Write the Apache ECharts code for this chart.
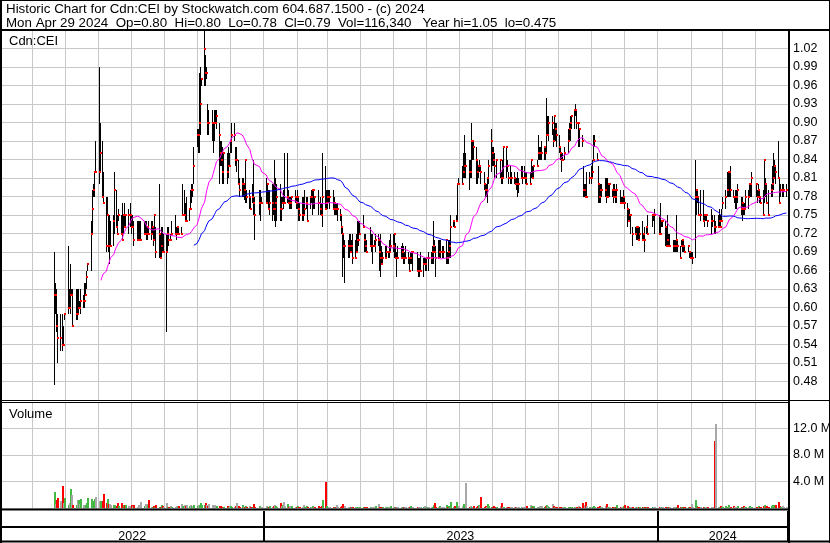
<!DOCTYPE html>
<html>
<head>
<meta charset="utf-8">
<title>Cdn:CEI</title>
<script src="https://cdn.jsdelivr.net/npm/echarts@6.0.0/dist/echarts.min.js"></script>
<style>
html,body{margin:0;padding:0;background:#fff;}
#chart{width:830px;height:543px;}
</style>
</head>
<body>
<div id="chart"></div>
<script>
// ---------------- data ----------------
const titleLine1 = 'Historic Chart for Cdn:CEI by Stockwatch.com 604.687.1500 - (c) 2024';
const titleLine2 = 'Mon Apr 29 2024  Op=0.80  Hi=0.80  Lo=0.78  Cl=0.79  Vol=116,340   Year hi=1.05  lo=0.475';
const symbolLabel = 'Cdn:CEI';
const volumeLabel = 'Volume';

// calendar span shown on the time axis, and the traded sessions
const axisStart = '2022-05-02';
const axisEnd = '2024-04-30';
const firstTradeDate = '2022-06-21';
const lastTradeDate = '2024-04-29';
const marketHolidays = ['2022-07-01','2022-08-01','2022-09-05','2022-10-10','2022-12-26','2022-12-27',
  '2023-01-02','2023-02-20','2023-04-07','2023-05-22','2023-07-03','2023-08-07','2023-09-04','2023-10-09','2023-12-25','2023-12-26',
  '2024-01-01','2024-02-19','2024-03-29'];

const highs = [
 .69,.64,.63,.59,.59,.59,.57,.59,.70,.63, .67,.63,.63,.63,.63,.63,.61,.63,.62,.64,
 .64,.66,.67,.74,.79,.80,.82,.87,.99,.90, .87,.82,.78,.78,.75,.75,.74,.75,.82,.79,
 .75,.76,.75,.77,.75,.77,.75,.76,.77,.75, .75,.74,.74,.74,.74,.74,.74,.74,.74,.73,
 .74,.74,.74,.73,.75,.73,.80,.72,.73,.73, .72,.72,.73,.73,.72,.74,.75,.73,.73,.73,
 .73,.80,.79,.77,.78,.76,.79,.80,.80,.86, .89,.89,
 .98,.99,.97,1.05,1.01,.99,.93,.92,.92,.90, .92,.92,.92,.90,.87,.87,.86,.85,.85,.86,
 .85,.87,.90,.90,.86,.86,.84,.81,.81,.81, .80,.84,.79,.79,.78,.80,.84,.78,.79,.79,
 .78,.81,.80,.79,.79,.80,.80,.84,.81,.80, .80,.78,.78,.79,.85,.85,.79,.78,.78,.78,
 .79,.78,.79,.78,.77,.78,.78,.79,.78,.78, .78,.79,.79,.79,.78,.79,.78,.77,.85,.83,
 .79,.79,.79,.79,.79,.78,.77,.77,.77,.76, .75,.73,.72,.71,.71,.72,.72,
 .71,.72,.71,.72,.74,.74,.74,.75,.72,.72, .71,.73,.72,.72,.71,.72,.72,.71,.72,.70,
 .69,.70,.70,.69,.71,.72,.72,.72,.705,.69, .70,.70,.705,.70,.69,.70,.69,.68,.69,.69,
 .69,.69,.68,.68,.69,.68,.68,.68,.68,.69, .69,.70,.74,.71,.70,.71,.71,.71,.70,.70,
 .71,.69,.71,.71,.75,.74,.74,.75,.80,.81, .83,.85,.88,.85,.84,.84,.90,.87,.87,.86,
 .84,.83,.84,.83,.82,.80,.80,.81,.84,.89, .86,.86,.85,.84,.84,
 .82,.84,.86,.86,.84,.82,.83,.82,.82,.81, .81,.82,.81,.83,.83,.83,.82,.82,.82,.84,
 .83,.83,.84,.88,.86,.86,.87,.86,.86,.94, .91,.91,.91,.89,.91,.90,.90,.88,.86,.85,
 .85,.86,.89,.90,.91,.91,.92,.93,.92,.90, .89,.88,.83,.80,.80,.82,.82,.83,.84,.88,
 .88,.85,.83,.80,.80,.80,.81,.81,.81,.80, .80,.79,.80,.80,.79,.80,.79,.78,.78,.79,
 .78,.77,.76,.76,.75,.73,.73,.73,.73,.73, .73,.74,.72,.73,
 .73,.75,.75,.75,.76,.75,.77,.74,.74,.74, .73,.75,.72,.72,.71,.71,.71,.75,.71,.70,
 .71,.71,.71,.70,.70,.69,.69,.69,.69,.84, .79,.79,.78,.79,.79,.75,.75,.75,.74,.76,
 .75,.75,.74,.75,.76,.75,.76,.78,.79,.82, .82,.82,.83,.79,.78,.79,.79,.80,.78,.78,
 .77,.77,.79,.79,.80,.80,.82,.80,.79,.80, .79,.78,.79,.84,.81,.80,.79,.80,.83,.85,
 .84,.83,.87,.81,.80,.80,.80,.80
];
const lows = [
 .475,.59,.56,.51,.53,.53,.54,.58,.59,.60, .59,.62,.57,.58,.58,.59,.60,.59,.60,.60,
 .62,.63,.66,.66,.72,.78,.78,.82,.80,.82, .78,.77,.69,.75,.69,.67,.70,.70,.72,.73,
 .72,.74,.72,.71,.72,.73,.73,.72,.73,.72, .73,.70,.71,.71,.71,.71,.72,.72,.71,.71,
 .72,.71,.72,.70,.71,.68,.68,.68,.68,.69, .69,.56,.69,.70,.71,.72,.72,.71,.72,.72,
 .72,.75,.75,.74,.74,.74,.76,.77,.78,.80, .86,.85,
 .85,.88,.96,.96,.96,.97,.88,.88,.87,.85, .87,.90,.89,.80,.83,.83,.80,.80,.80,.81,
 .83,.85,.85,.87,.83,.82,.80,.78,.78,.78, .775,.77,.77,.76,.76,.77,.75,.71,.75,.74,
 .77,.77,.77,.76,.75,.74,.75,.74,.73,.74, .74,.74,.77,.76,.77,.77,.77,.76,.76,.76,
 .77,.76,.76,.74,.74,.74,.74,.75,.76,.74, .76,.77,.75,.76,.76,.75,.75,.75,.73,.76,
 .76,.76,.77,.76,.76,.75,.75,.75,.74,.74, .72,.65,.68,.64,.68,.68,.69,
 .69,.67,.68,.69,.69,.70,.72,.73,.69,.69, .69,.70,.69,.67,.70,.69,.70,.66,.65,.67,
 .67,.68,.68,.68,.68,.69,.69,.68,.68,.65, .68,.68,.68,.67,.67,.68,.67,.66,.67,.67,
 .66,.66,.65,.65,.66,.65,.67,.66,.66,.66, .67,.67,.67,.69,.65,.68,.68,.68,.68,.68,
 .67,.67,.67,.68,.68,.73,.73,.74,.74,.80, .80,.81,.81,.81,.79,.81,.81,.84,.84,.80,
 .80,.81,.82,.80,.79,.78,.78,.77,.80,.82, .83,.83,.81,.81,.81,
 .80,.80,.81,.81,.82,.80,.80,.80,.80,.80, .79,.78,.785,.81,.80,.81,.80,.80,.80,.81,
 .81,.81,.83,.84,.84,.84,.84,.84,.84,.85, .88,.87,.88,.86,.87,.87,.86,.85,.84,.82,
 .84,.84,.85,.87,.87,.89,.89,.91,.89,.86, .86,.86,.78,.78,.78,.78,.80,.80,.81,.84,
 .86,.84,.77,.77,.77,.78,.78,.77,.78,.78, .78,.78,.77,.78,.77,.77,.77,.77,.77,.77,
 .76,.73,.74,.74,.72,.70,.72,.71,.71,.71, .71,.71,.71,.69,
 .72,.72,.73,.74,.72,.72,.72,.73,.73,.70, .70,.70,.70,.70,.69,.69,.69,.69,.69,.68,
 .70,.69,.69,.69,.69,.68,.68,.68,.67,.68, .75,.77,.75,.74,.74,.73,.74,.74,.73,.72,
 .73,.72,.72,.73,.73,.73,.74,.76,.76,.78, .78,.78,.78,.78,.77,.76,.76,.77,.75,.74,
 .75,.75,.76,.76,.78,.78,.78,.78,.77,.78, .77,.77,.75,.77,.78,.77,.75,.78,.78,.79,
 .81,.80,.81,.77,.78,.78,.78,.78
];
const closes = [
 .62,.62,.57,.55,.55,.54,.54,.59,.60,.60, .62,.62,.57,.59,.59,.60,.60,.61,.61,.61,
 .62,.65,.67,.72,.76,.79,.82,.82,.82,.85, .78,.77,.70,.75,.70,.70,.70,.74,.79,.73,
 .72,.75,.72,.71,.75,.73,.75,.75,.75,.73, .73,.71,.71,.71,.71,.71,.72,.72,.72,.73,
 .72,.72,.73,.71,.75,.69,.72,.68,.70,.69, .69,.69,.72,.71,.71,.72,.72,.72,.73,.72,
 .72,.75,.75,.74,.74,.76,.76,.79,.79,.83, .88,.88,
 .90,.93,.97,1.02,.98,.98,.90,.90,.90,.90, .90,.90,.91,.88,.85,.84,.82,.85,.82,.83,
 .83,.87,.88,.88,.84,.84,.80,.79,.80,.80, .79,.84,.78,.78,.76,.78,.77,.75,.77,.77,
 .77,.77,.80,.76,.77,.77,.76,.76,.77,.78, .76,.76,.77,.77,.77,.78,.77,.77,.77,.78,
 .78,.77,.78,.76,.75,.75,.75,.76,.77,.74, .78,.78,.79,.79,.78,.77,.76,.75,.78,.76,
 .77,.78,.78,.78,.76,.77,.76,.76,.76,.75, .73,.72,.70,.70,.70,.70,.69,
 .70,.68,.68,.69,.71,.71,.72,.73,.71,.70, .69,.70,.70,.70,.70,.71,.71,.69,.68,.67,
 .68,.68,.69,.69,.69,.70,.70,.72,.68,.68, .68,.68,.69,.68,.68,.68,.68,.66,.68,.69,
 .69,.66,.66,.66,.66,.67,.67,.67,.68,.68, .68,.69,.70,.69,.68,.68,.69,.69,.69,.69,
 .71,.68,.69,.70,.73,.74,.73,.74,.80,.80, .80,.82,.83,.83,.82,.82,.87,.87,.86,.84,
 .82,.83,.83,.82,.80,.79,.79,.81,.83,.87, .85,.84,.83,.84,.84,
 .81,.81,.86,.86,.83,.81,.81,.81,.81,.80, .80,.80,.80,.81,.81,.81,.81,.80,.80,.84,
 .81,.83,.83,.85,.85,.85,.85,.86,.85,.88, .88,.90,.90,.87,.91,.89,.88,.86,.85,.84,
 .84,.85,.87,.89,.90,.91,.92,.92,.90,.90, .89,.87,.79,.79,.78,.78,.81,.81,.82,.84,
 .87,.84,.80,.78,.79,.79,.79,.78,.78,.80, .80,.79,.78,.79,.78,.79,.77,.77,.77,.78,
 .77,.76,.74,.75,.75,.72,.72,.73,.73,.71, .72,.71,.72,.71,
 .73,.72,.75,.75,.75,.72,.72,.74,.74,.73, .70,.71,.70,.70,.70,.70,.70,.71,.70,.68,
 .70,.71,.70,.69,.70,.69,.68,.68,.68,.78, .79,.78,.75,.75,.74,.75,.75,.75,.74,.74,
 .74,.73,.73,.73,.74,.73,.74,.77,.78,.79, .82,.82,.79,.78,.78,.78,.78,.79,.76,.77,
 .76,.76,.78,.78,.80,.80,.81,.80,.78,.79, .78,.77,.75,.84,.80,.77,.75,.79,.80,.81,
 .83,.82,.81,.77,.79,.79,.79,.79
];
// daily volume, millions of shares
const volumesM = [
 2.4,.6,1.15,1.5,1.0,3.3,.8,1.5,.5,.7, 2.8,2.0,.4,.5,1.25,1.25,.6,1.4,.5,.5,
 .5,.7,1.5,1.3,1.0,1.0,1.4,1.7,1.0,1.1, 1.0,2.1,.8,1.4,.6,.6,.45,.45,.45,.35,
 .75,.3,.75,.4,.4,.45,.45,.35,.3,.45, .3,.45,.2,.45,.3,.9,.35,.6,.6,.5,
 1.15,.2,.2,.3,.15,.4,.2,.15,.5,.3, .2,.75,.2,.15,.3,.2,.1,.25,.15,.3,
 .6,.3,.45,.25,.45,.3,.45,.3,.35,.45, .3,.5,.45,.75,.5,.45,.75,.4,.3,.6,
 .4,.3,.45,.2,.3,.25,.3,.2,.15,.2, .3,.2,.25,.3,.15,.2,.3,.75,.3,.2,
 .45,.2,.15,.3,.2,.25,.1,.2,.6,.2, .25,.15,.2,.3,.15,.2,.3,.2,.25,.45,
 .3,.2,.75,.3,.45,.9,.3,.6,.2,.3, .2,.25,.15,.2,.3,.2,.15,.2,.45,.2,
 .3,.15,.2,.2,.3,.15,.2,.3,.2,.3, 1.25,3.9,.3,.2,.15,.2,.1,.2,.15,.45,
 .2,.15,.3,.6,.2,.3,.15,.2,.2,.15, .2,.1,.15,.2,.15,.1,.2,.15,.1,.2,
 .15,.2,.1,.15,.3,.6,.2,.15,.1,.2, .15,.2,.1,.15,.3,.2,.1,.15,.2,.1,
 .15,.2,.1,.15,.2,.1,.15,.3,.2,.1, .15,.2,.15,.1,.2,.3,.15,.2,.1,.15,
 .2,.45,.75,.2,.15,.3,.2,.15,.2,.45, .2,.3,.3,.9,.2,.3,.9,.2,.3,.3,
 .6,.3,3.7,.2,.3,.2,.15,.3,.2,.3, .45,.3,1.6,.2,.3,.2,.6,.3,.15,.2,
 .3,.2,.15,.3,.75,.2,.15,.2,.1,.2, .15,.2,.15,.1,.2,.15,.1,.2,.15,.2,
 .15,.3,.45,.3,.2,.3,.2,.15,.3,.2, .3,.2,.3,.45,.3,.2,.6,.3,.2,.15,
 .2,.15,.1,.15,.2,.1,.15,.2,.1,.15, .2,.15,.2,.3,.2,.75,.3,.45,.85,.3,
 .2,.15,.2,.3,.2,.15,.2,.3,.15,.2, .3,.6,.2,.15,.2,.1,.15,.2,.15,.45,
 .2,.15,.2,.3,.45,.3,.2,.15,.2,.1, .15,.2,.1,.15,.2,.1,.15,.2,.1,.15,
 .2,.1,.15,.2,.15,.1,.2,.15,.1,.2, .15,.1,.2,.15,.1,.2,.45,.15,.1,.2,
 .15,.2,.1,.15,.2,.6,.2,1.15,.3,.2, .15,.2,.1,.15,.2,.15,.1,.2,.2,10.1,
 12.7,.2,.15,.3,.2,.15,.3,.2,.45,.2, .15,.3,.2,.1,.2,.3,.15,.2,.3,.2,
 .15,.2,.3,.15,.2,.1,.2,.3,.15,.2, .3,.45,.2,.3,.2,.3,.45,.3,.4,.4,
 .9,.3,.2,.35,.2,.116
];

const priceMin = 0.45, priceMax = 1.05, priceStep = 0.03;
const volMin = 0, volMax = 16, volStep = 4;
const maShortDays = 30, maLongDays = 90;

// ---------------- build ----------------
const FONT = '"Liberation Sans", Arial, Helvetica, sans-serif';
const DAY = 86400000;
const iso = (t) => new Date(t).toISOString().slice(0, 10);

const calendar = [];
for (let t = Date.parse(axisStart + 'T00:00:00Z'); t <= Date.parse(axisEnd + 'T00:00:00Z'); t += DAY) calendar.push(iso(t));
const calIndex = new Map(calendar.map((d, i) => [d, i]));

const sessions = [];
(function () {
  const hol = new Set(marketHolidays);
  for (let t = Date.parse(firstTradeDate + 'T00:00:00Z'); t <= Date.parse(lastTradeDate + 'T00:00:00Z'); t += DAY) {
    const wd = new Date(t).getUTCDay();
    const s = iso(t);
    if (wd !== 0 && wd !== 6 && !hol.has(s)) sessions.push(s);
  }
})();
const n = Math.min(sessions.length, closes.length);
const xOf = (i) => calIndex.get(sessions[i]);

const rangeData = [], closeData = [], volData = [];
for (let i = 0; i < n; i++) {
  const x = xOf(i);
  rangeData.push([x, highs[i], lows[i]]);
  closeData.push([x, closes[i]]);
  const dir = i === 0 ? 1 : (closes[i] > closes[i - 1] ? 1 : (closes[i] < closes[i - 1] ? -1 : 0));
  volData.push([x, volumesM[i], dir]);
}
function sma(win) {
  const out = [];
  for (let i = win - 1; i < n; i++) {
    let sum = 0;
    for (let k = i - win + 1; k <= i; k++) sum += closes[k];
    out.push([xOf(i), +(sum / win).toFixed(4)]);
  }
  return out;
}
const maShort = sma(maShortDays);
const maLong = sma(maLongDays);

const isMonthStart = (idx) => idx > 0 && calendar[idx].slice(8, 10) === '01';
const isYearStart = (idx) => idx > 0 && calendar[idx].slice(5, 10) === '01-01';
const yearMid = new Set();
(function () {
  const ranges = {};
  calendar.forEach((s, i) => {
    const y = s.slice(0, 4);
    if (!ranges[y]) ranges[y] = [i, i]; else ranges[y][1] = i;
  });
  Object.keys(ranges).forEach(y => yearMid.add(Math.round((ranges[y][0] + ranges[y][1]) / 2)));
})();

function baseX(gridIndex) {
  return {
    type: 'category', gridIndex, data: calendar, boundaryGap: true,
    axisLine: { show: false }, axisTick: { show: false }, axisLabel: { show: false },
    splitLine: { show: true, interval: (i) => isMonthStart(i), lineStyle: { color: '#c8c8c8', width: 1 } }
  };
}

const GRID_W = 788;
const option = {
  animation: false,
  backgroundColor: '#ffffff',
  grid: [
    { left: 0, top: 30, width: GRID_W, height: 370, outerBoundsMode: 'none' },
    { left: 0, top: 402, width: GRID_W, height: 106, outerBoundsMode: 'none' },
    { left: 0, top: 511, width: GRID_W, height: 30, outerBoundsMode: 'none' }
  ],
  xAxis: [
    baseX(0),
    baseX(1),
    {
      type: 'category', gridIndex: 2, data: calendar, boundaryGap: true, position: 'bottom',
      axisLine: { show: false }, axisTick: { show: false },
      axisLabel: {
        show: true, inside: true, margin: -2, interval: (i) => yearMid.has(i),
        formatter: (v) => v.slice(0, 4), color: '#000', fontSize: 12.5, fontFamily: FONT
      },
      splitLine: { show: true, interval: (i) => isYearStart(i), lineStyle: { color: '#000', width: 2 } }
    }
  ],
  yAxis: [
    {
      type: 'value', gridIndex: 0, position: 'right', min: priceMin, max: priceMax, interval: priceStep,
      axisLine: { show: false }, axisTick: { show: false },
      axisLabel: { showMinLabel: false, showMaxLabel: false, margin: 5, color: '#000', fontSize: 12.5, fontFamily: FONT,
        formatter: (v) => v.toFixed(2) },
      splitLine: { show: true, lineStyle: { color: '#c8c8c8', width: 1 } }
    },
    {
      type: 'value', gridIndex: 1, position: 'right', min: volMin, max: volMax, interval: volStep,
      axisLine: { show: false }, axisTick: { show: false },
      axisLabel: { showMinLabel: false, showMaxLabel: false, margin: 5, color: '#000', fontSize: 12.5, fontFamily: FONT,
        hideOverlap: false, formatter: (v) => v.toFixed(1) + ' M' },
      splitLine: { show: true, lineStyle: { color: '#c8c8c8', width: 1 } }
    },
    { type: 'value', gridIndex: 2, show: false }
  ],
  series: [
    {
      type: 'custom', name: 'range', xAxisIndex: 0, yAxisIndex: 0, data: rangeData, clip: true, z: 2,
      encode: { x: 0, y: [1, 2] },
      renderItem: function (params, api) {
        const i = api.value(0);
        const ph = api.coord([i, api.value(1)]);
        const pl = api.coord([i, api.value(2)]);
        const xf = Math.floor(ph[0]);
        let y1 = Math.round(ph[1]), y2 = Math.round(pl[1]);
        if (y2 - y1 < 1) y2 = y1 + 1;
        return { type: 'rect', shape: { x: xf, y: y1, width: 1, height: y2 - y1 }, style: { fill: '#000' } };
      }
    },
    {
      type: 'custom', name: 'close', xAxisIndex: 0, yAxisIndex: 0, data: closeData, clip: true, z: 3,
      encode: { x: 0, y: 1 },
      renderItem: function (params, api) {
        const i = api.value(0);
        const pc = api.coord([i, api.value(1)]);
        const xf = Math.floor(pc[0]);
        return { type: 'rect', shape: { x: xf, y: Math.round(pc[1]) - 1, width: 2, height: 2 }, style: { fill: '#ff0000' } };
      }
    },
    {
      type: 'line', name: 'ma' + maShortDays, xAxisIndex: 0, yAxisIndex: 0, data: maShort, z: 4,
      symbol: 'none', lineStyle: { color: '#ff00ff', width: 1 }, silent: true
    },
    {
      type: 'line', name: 'ma' + maLongDays, xAxisIndex: 0, yAxisIndex: 0, data: maLong, z: 4,
      symbol: 'none', lineStyle: { color: '#0000ff', width: 1 }, silent: true
    },
    {
      type: 'custom', name: 'volume', xAxisIndex: 1, yAxisIndex: 1, data: volData, clip: true, z: 2,
      encode: { x: 0, y: 1 },
      renderItem: function (params, api) {
        const i = api.value(0);
        const top = api.coord([i, api.value(1)]);
        const base = api.coord([i, 0]);
        const dir = api.value(2);
        const col = dir > 0 ? '#44b944' : (dir < 0 ? '#ff0000' : '#a8a8a8');
        const xf = Math.floor(top[0]);
        let yt = Math.round(top[1]);
        const yb = Math.round(base[1]);
        if (yb - yt < 1) yt = yb - 1;
        return { type: 'rect', shape: { x: xf, y: yt, width: 2, height: yb - yt }, style: { fill: col } };
      }
    }
  ],
  graphic: [
    // frame
    { type: 'line', z: 100, shape: { x1: 0, y1: 0.5, x2: 830, y2: 0.5 }, style: { stroke: '#000', lineWidth: 1 } },
    { type: 'line', z: 100, shape: { x1: 1, y1: 0, x2: 1, y2: 543 }, style: { stroke: '#000', lineWidth: 2 } },
    { type: 'line', z: 100, shape: { x1: 829.5, y1: 0, x2: 829.5, y2: 543 }, style: { stroke: '#000', lineWidth: 1 } },
    { type: 'line', z: 100, shape: { x1: 0, y1: 30, x2: 830, y2: 30 }, style: { stroke: '#000', lineWidth: 2 } },
    { type: 'line', z: 100, shape: { x1: 0, y1: 400.5, x2: 830, y2: 400.5 }, style: { stroke: '#000', lineWidth: 1 } },
    { type: 'line', z: 100, shape: { x1: 0, y1: 402.5, x2: 789, y2: 402.5 }, style: { stroke: '#000', lineWidth: 1 } },
    { type: 'line', z: 100, shape: { x1: 0, y1: 509.5, x2: 789, y2: 509.5 }, style: { stroke: '#000', lineWidth: 2 } },
    { type: 'line', z: 100, shape: { x1: 0, y1: 527, x2: 789, y2: 527 }, style: { stroke: '#000', lineWidth: 2 } },
    { type: 'line', z: 100, shape: { x1: 0, y1: 541.5, x2: 830, y2: 541.5 }, style: { stroke: '#000', lineWidth: 2 } },
    { type: 'line', z: 100, shape: { x1: 789, y1: 29, x2: 789, y2: 543 }, style: { stroke: '#000', lineWidth: 2 } },
    // texts
    { type: 'text', z: 100, left: 6, top: 3, style: { text: titleLine1, font: '13.33px ' + FONT, fill: '#000' } },
    { type: 'text', z: 100, left: 6, top: 17, style: { text: titleLine2, font: '13.33px ' + FONT, fill: '#000' } },
    { type: 'text', z: 100, left: 9, top: 35, style: { text: symbolLabel, font: '13px ' + FONT, fill: '#000' } },
    { type: 'text', z: 100, left: 9, top: 408, style: { text: volumeLabel, font: '13px ' + FONT, fill: '#000' } }
  ]
};

const chart = echarts.init(document.getElementById('chart'), null, { renderer: 'canvas', width: 830, height: 543 });
chart.setOption(option);
</script>
</body>
</html>
